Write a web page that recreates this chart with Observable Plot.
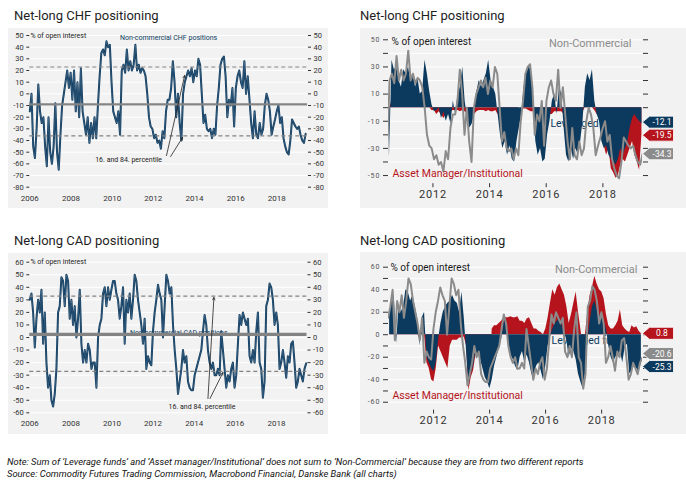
<!DOCTYPE html>
<html><head><meta charset="utf-8">
<script src="https://cdn.jsdelivr.net/npm/d3@7"></script>
<script src="https://cdn.jsdelivr.net/npm/@observablehq/plot@0.6"></script>
<style>
body{margin:0;background:#fff;font-family:Roboto,'Noto Sans',sans-serif;}
#wrap{position:relative;width:686px;height:498px;overflow:hidden;background:#fff;}
.title{position:absolute;font-size:13px;line-height:14px;color:#1e1e1e;white-space:nowrap;}
.note{position:absolute;left:7px;font-size:9.4px;line-height:12px;font-style:italic;color:#111;white-space:nowrap;}
.split [aria-label="x-axis tick label"] text{letter-spacing:0.8px;}
.split [aria-label="y-axis tick label"] text{letter-spacing:1px;}
</style></head><body>
<div id="wrap">
  <div class="title" style="left:14px;top:9px">Net-long CHF positioning</div>
  <div class="title" style="left:360px;top:9px">Net-long CHF positioning</div>
  <div class="title" style="left:14px;top:234px">Net-long CAD positioning</div>
  <div class="title" style="left:360px;top:234px">Net-long CAD positioning</div>
  <div class="note" style="top:456px">Note: Sum of ‘Leverage funds’ and ‘Asset manager/Institutional’ does not sum to ‘Non-Commercial’ because they are from two different reports</div>
  <div class="note" style="top:468px">Source: Commodity Futures Trading Commission, Macrobond Financial, Danske Bank (all charts)</div>
</div>
<script>
const FONT = "Roboto, 'Noto Sans', sans-serif";
const BG = "#f2f2f2", NAVY = "#0c3a5e", RED = "#b5141c", GRAY = "#8b8b8b", MEANC = "#838383";

// ---- CHF non-commercial, % of open interest (monthly, 2006.0 - 2019.40)
const chfNcStart = 2006.0, chfNcEnd = 2019.40;
const chfNonCommercial = [
  -15, 0, -45, -55, -30, 8, -15, -25, -20, -45, -62, -20,
  -50, -60, -45, -8, -50, -65, -35, -10, 0, 10, 20, 5,
  18, -5, 20, -15, 10, -20, 22, -15, -25, -35, -20, -42,
  -25, -38, -20, -38, -10, 15, 35, 38, 33, 45, 40, 42,
  10, -15, -20, -25, -15, -35, 20, 25, 18, 38, 20, 28,
  20, 25, 42, 20, 25, 18, 22, 20, 15, 0, -20, -28,
  -30, -38, -35, -42, -40, -47, -32, -38, -15, -5, -5, 5,
  28, 10, -20, 0, -25, -40, 0, 10, 15, 20, 15, 22,
  10, 20, 15, 30, 25, 0, -25, -18, -30, -32, -30, -38,
  -30, -35, -10, 5, 25, 30, 32, 15, -20, -5, -10, 5,
  -28, 5, 15, 20, 10, 5, 28, 0, 15, -5, -25, -38,
  -15, -35, -38, -25, -35, -30, -10, 0, -5, -15, -35, -28,
  -22, -15, -10, -25, -20, -38, -45, -50, -52, -40, -22, -25,
  -28, -30, -28, -35, -40, -42, -34.3
];
const chfMean = -9;
const chfPercentiles = [23, -36];

// ---- CAD non-commercial (2006.0 - 2019.45)
const cadNcStart = 2006.0, cadNcEnd = 2019.45;
const cadNonCommercial = [
  30, 35, 20, -8, 15, 30, 20, 38, -5, 20, -20, -40, -30, -50, -55, -45, -25, 20, 25, 48,
  45, 25, 50, 45, 15, 30, 10, 25, 0, 15, 38, -5, -20, -10, -20, -5, -10, -25, -20, -20,
  -40, 0, 10, 15, 35, 40, 25, 40, 30, 38, 45, 45, 35, 30, 15, 25, 40, -5, 30, 20,
  35, 15, 30, 50, 45, 30, 20, 10, -5, 15, -25, -15, -20, -22, 5, 20, 30, 42, 35, 30,
  0, 25, 50, 45, 35, 40, 10, -10, -25, -45, -35, -25, -10, -20, -15, -35, -40, -42, -42, -30,
  -25, -20, -15, -10, 5, 18, 10, -10, -20, -25, -20, -30, -30, -25, -30, 5, -10, -25, -40, -30,
  -35, -25, -20, -40, -30, -5, 18, 10, 20, 15, 10, 15, -15, -20, -10, -20, 5, 20, -20, -25,
  -48, -35, 25, 30, 43, 40, 30, 10, 20, 10, -25, -20, -10, -20, -32, -15, -20, -5, -3, -20,
  -40, -35, -25, -30, -35, -25, -20.6
];
const cadMean = 2.5;
const cadPercentiles = [33, -27];

// ---- CHF split (monthly, 2010.47 - 2019.38)
const chfSplitStart = 2010.47, chfSplitEnd = 2019.38;
const chfLeveraged = [
  -35, 35, 28, 30, 20, 15, 28, 25, 30, 20, 25, 15,
  22, 10, 12, 35, 25, 12, 2, -3, -2, 0, -8, -3,
  -10, -5, -12, 5, -5, 10, 15, 30, 5, -8, -15, -12,
  -5, 12, 20, 15, 20, 25, 35, 20, 15, 10, -5, -20,
  -30, -25, -35, -28, -38, -40, -25, -15, -5, 15, 25, 30,
  28, 5, -25, -35, -30, -40, -38, -20, -10, 5, 10, -5,
  15, 10, -15, -35, -40, -30, -38, -30, -35, -25, -10, 15,
  25, 20, 28, 5, -5, -10, -25, -30, -28, -35, -38, -40,
  -42, -38, -30, -35, -30, -25, -15, -8, -5, -8, -10, -12.1
];
const chfAssetManager = [
  0, 5, 8, 5, 3, 5, 5, 3, 5, 3, 3, 2,
  3, 2, 2, 3, 2, 0, -2, -2, -5, -3, -5, -8,
  -5, -3, -3, -2, -2, -2, -3, -2, -3, -5, -3, -8,
  -5, -3, -2, -2, -2, -3, -2, -3, -3, -2, -5, -3,
  -2, -2, -3, -2, -3, -2, -1, 0, 0, -1, -1, -2,
  -3, -3, -5, -5, -8, -10, -15, -8, -5, -5, -3, -3,
  -3, -3, -5, -5, -5, -5, -5, -3, -5, -3, -3, 0,
  2, 0, 0, -2, -5, -5, -15, -28, -35, -30, -45, -48,
  -52, -50, -42, -38, -40, -35, -30, -25, -35, -40, -46, -19.5
];

// ---- CAD split (monthly, 2010.43 - 2019.42)
const cadSplitStart = 2010.43, cadSplitEnd = 2019.42;
const cadLeveraged = [
  20, 30, 35, -8, 25, 20, 25, 40, 38, 30, 35, 25,
  15, -10, 15, 20, -20, -25, -30, -33, -25, -5, 10, 20,
  25, 28, 30, 35, 30, 28, 20, 38, 15, -15, -45, -35,
  -28, -15, -18, -22, -30, -38, -42, -48, -40, -28, -20, -12,
  -5, 10, 15, -5, -18, -22, -28, -32, -20, -15, -25, -18,
  -25, -35, -40, -28, -25, -32, -40, -28, -10, -2, 5, 10,
  12, 15, 8, 2, -5, -20, -12, -15, -22, -35, -42, -48,
  -35, -5, 12, 25, 30, 22, 18, 15, 12, 5, -10, -20,
  -25, -20, -18, -15, -25, -12, -8, -35, -32, -28, -30, -33, -25.3
];
const cadAssetManager = [
  0, 2, 2, 0, 2, 2, 3, 3, 3, 3, 2, 2,
  0, -3, 0, 0, -25, -30, -40, -42, -30, -10, -15, -20,
  -25, -30, -10, -5, -5, -5, -3, -3, -2, -10, -50, -38,
  -32, -18, -15, -20, -25, -35, -40, -45, 5, 8, 8, 10,
  12, 15, 15, 15, 16, 15, 15, 16, 12, 12, 10, 14,
  15, 10, 5, 5, 3, 2, 0, 5, 15, 28, 40, 35,
  42, 45, 40, 35, 25, 10, 18, 28, 38, 20, 5, -10,
  0, 20, 35, 42, 52, 45, 40, 38, 32, 18, 8, 5,
  5, 8, 12, 22, 8, 5, 3, 2, 8, 6, 7, 3, 0.8
];

const yearTicksLong = [2006, 2008, 2010, 2012, 2014, 2016, 2018];
const yearTicksShort = [2012, 2014, 2016, 2018];

// ---- helpers
function toDate(y) {
  const yr = Math.floor(y);
  const s = Date.UTC(yr, 0, 1), e = Date.UTC(yr + 1, 0, 1);
  return new Date(s + (y - yr) * (e - s));
}
function toSeries(values, start, end) {
  const step = (end - start) / (values.length - 1);
  return values.map((v, i) => ({date: toDate(start + i * step), value: v}));
}
function label(x, y, text, opts) {
  return Plot.text([{x: toDate(x), y, text}], {x: "x", y: "y", text: "text", fontFamily: FONT, ...opts});
}
function arrows(list) {
  return Plot.arrow(list.map(a => ({x1: toDate(a[0]), y1: a[1], x2: toDate(a[2]), y2: a[3]})),
    {x1: "x1", y1: "y1", x2: "x2", y2: "y2", stroke: "#222", strokeWidth: 0.8, headLength: 5, headAngle: 50});
}
const wrap = document.getElementById("wrap");
function place(el, left, top) {
  el.style.position = "absolute";
  el.style.left = left + "px";
  el.style.top = top + "px";
  wrap.appendChild(el);
}

function longPanel(cfg) {
  const ticks = d3.range(cfg.yDomain[0], cfg.yDomain[1] + 1, 10);
  return Plot.plot({
    width: 320, height: cfg.height,
    marginLeft: 21.3, marginRight: cfg.marginRight, marginTop: cfg.marginTop, marginBottom: cfg.marginBottom,
    style: {background: BG, fontFamily: FONT, fontSize: "7.5px", color: "#333", overflow: "visible"},
    x: {type: "utc", domain: [toDate(2006), toDate(2019.49)]},
    y: {domain: cfg.yDomain},
    marks: [
      Plot.ruleY(ticks, {stroke: "#fff", strokeWidth: 1}),
      Plot.axisY({anchor: "left", ticks, tickSize: 3, tickPadding: 3, label: null, tickFormat: d => String(d)}),
      Plot.axisY({anchor: "right", ticks, tickSize: 3, tickPadding: 3, label: null, tickFormat: d => String(d)}),
      Plot.axisX({ticks: yearTicksLong.map(toDate), tickSize: 0, tickPadding: 8, label: null, tickFormat: d3.utcFormat("%Y"), fontSize: 8}),
      label(2006.03, cfg.yDomain[1], "% of open interest", {textAnchor: "start", fontSize: 7, fill: "#222"}),
      label(cfg.seriesLabel[0], cfg.seriesLabel[1], cfg.seriesLabel[2], {fontSize: 7, fill: NAVY}),
      Plot.line(cfg.data, {x: "date", y: "value", stroke: NAVY, strokeWidth: 2}),
      Plot.line(cfg.data, {x: "date", y: "value", stroke: "#8aa2b8", strokeWidth: 0.35, strokeOpacity: 0.8}),
      Plot.ruleY(cfg.pct, {stroke: MEANC, strokeWidth: 1.2, strokeDasharray: "4,3"}),
      Plot.ruleY([cfg.mean], {stroke: MEANC, strokeWidth: cfg.meanWidth}),
      arrows(cfg.arrows),
      label(cfg.pctLabel[0], cfg.pctLabel[1], "16. and 84. percentile", {fontSize: 7, fill: "#222"})
    ]
  });
}

function splitPanel(cfg) {
  const ticks = d3.range(cfg.tickRange[0], cfg.tickRange[1] + 1, 10);
  const svg = Plot.plot({
    width: 326, height: cfg.height,
    marginLeft: 28, marginRight: 44, marginTop: cfg.marginTop, marginBottom: cfg.marginBottom,
    className: "split",
    style: {background: BG, fontFamily: FONT, fontSize: "7px", color: "#333", overflow: "visible"},
    x: {type: "utc", domain: [toDate(cfg.xDomain[0]), toDate(cfg.xDomain[1])]},
    y: {domain: cfg.yDomain},
    marks: [
      Plot.ruleY(ticks, {stroke: "#fff", strokeWidth: 1}),
      Plot.axisY({anchor: "left", ticks, tickSize: 5, tickPadding: 3, label: null, tickFormat: cfg.tickFormat, fill: "#555"}),
      Plot.axisY({anchor: "right", ticks, tickSize: 5, tickPadding: 3, label: null, tickFormat: () => ""}),
      Plot.axisX({ticks: yearTicksShort.map(toDate), tickSize: 4, tickPadding: 2, label: null, tickFormat: d3.utcFormat("%Y"), fontSize: 11, fill: "#333"}),
      label(cfg.levLabel[0], cfg.levLabel[1], "Leveraged funds", {textAnchor: "start", fontSize: 10.5, fill: NAVY}),
      Plot.areaY(cfg.am, {x: "date", y: "value", fill: RED}),
      Plot.areaY(cfg.lev, {x: "date", y: "value", fill: NAVY}),
      Plot.line(cfg.nc, {x: "date", y: "value", stroke: GRAY, strokeWidth: 2, clip: true}),
      label(cfg.pctOi[0], cfg.pctOi[1], "% of open interest", {textAnchor: "start", fontSize: 10, fill: "#1a1a1a"}),
      label(cfg.ncLabel[0], cfg.ncLabel[1], "Non-Commercial", {textAnchor: "end", fontSize: 11, fill: GRAY}),
      label(cfg.amLabel[0], cfg.amLabel[1], "Asset Manager/Institutional", {textAnchor: "start", fontSize: 10.5, fill: RED})
    ]
  });
  // end-of-series value boxes, positioned through the y scale and dodged
  const ys = svg.scale("y");
  const pos = cfg.ends.map(d => ({...d, py: ys.apply(d.value)})).sort((a, b) => a.py - b.py);
  const gap = 13;
  for (let k = 0; k < 40; k++) {
    for (let i = 1; i < pos.length; i++) {
      const dd = pos[i].py - pos[i - 1].py;
      if (dd < gap) { const s = (gap - dd) / 2; pos[i - 1].py -= s; pos[i].py += s; }
    }
  }
  const x0 = 326 - 44 + 0.5;
  const g = d3.select(svg).append("g");
  for (const d of pos) {
    const y = d.py;
    g.append("path").attr("d", `M${x0},${y}L${x0 + 7},${y - 6}H${x0 + 31}V${y + 6}H${x0 + 7}Z`)
      .attr("fill", d.color).attr("stroke", "#fff").attr("stroke-width", 0.8);
    g.append("text").attr("x", x0 + 19.5).attr("y", y).attr("dy", "0.36em").attr("text-anchor", "middle")
      .attr("fill", "#fff").attr("font-size", 8.5).attr("font-family", FONT).text(d.value.toFixed(1));
  }
  return svg;
}

const chfNcData = toSeries(chfNonCommercial, chfNcStart, chfNcEnd);
const cadNcData = toSeries(cadNonCommercial, cadNcStart, cadNcEnd);

place(longPanel({
  data: chfNcData, yDomain: [-80, 50], height: 180, marginTop: 7, marginBottom: 21.3, marginRight: 21,
  mean: chfMean, meanWidth: 2.4, pct: chfPercentiles,
  seriesLabel: [2012.74, 48.3, "Non-commercial CHF positions"],
  pctLabel: [2010.8, -56.8],
  arrows: [[2012.64, -52.9, 2013.52, 15.7], [2012.84, -53.7, 2013.42, -37.4]]
}), 8, 28);

place(longPanel({
  data: cadNcData, yDomain: [-60, 60], height: 181, marginTop: 8.7, marginBottom: 21.7, marginRight: 21.5,
  mean: cadMean, meanWidth: 3.3, pct: cadPercentiles,
  seriesLabel: [2013.25, 4, "Non-commercial CAD positions"],
  pctLabel: [2014.38, -55],
  arrows: [[2014.67, -48.6, 2014.96, 31.9], [2014.77, -48.6, 2015.4, -27.9]]
}), 8, 253);

const chfLast = arr => arr[arr.length - 1];
place(splitPanel({
  height: 180, marginTop: 11.3, marginBottom: 24.8,
  xDomain: [2010.43, 2019.40], yDomain: [-56, 50], tickRange: [-50, 50],
  tickFormat: d => (d % 20 !== 0 ? String(d) : ""),
  lev: toSeries(chfLeveraged, chfSplitStart, chfSplitEnd),
  am: toSeries(chfAssetManager, chfSplitStart, chfSplitEnd),
  nc: chfNcData.filter(d => d.date >= toDate(2010.37)),
  levLabel: [2016.15, -11.7], pctOi: [2010.54, 48.7], ncLabel: [2019.01, 47.3], amLabel: [2010.57, -48.5],
  ends: [
    {value: chfLast(chfLeveraged), color: NAVY},
    {value: chfLast(chfAssetManager), color: RED},
    {value: chfLast(chfNonCommercial), color: GRAY}
  ]
}), 360, 28);

place(splitPanel({
  height: 182, marginTop: 14.7, marginBottom: 24.4,
  xDomain: [2010.39, 2019.46], yDomain: [-67, 60], tickRange: [-60, 60],
  tickFormat: d => (d % 20 === 0 ? String(d) : ""),
  lev: toSeries(cadLeveraged, cadSplitStart, cadSplitEnd),
  am: toSeries(cadAssetManager, cadSplitStart, cadSplitEnd),
  nc: cadNcData.filter(d => d.date >= toDate(2010.3)),
  levLabel: [2016.21, -5.2], pctOi: [2010.46, 59.7], ncLabel: [2019.28, 58], amLabel: [2010.53, -54],
  ends: [
    {value: chfLast(cadAssetManager), color: RED},
    {value: chfLast(cadNonCommercial), color: GRAY},
    {value: chfLast(cadLeveraged), color: NAVY}
  ]
}), 360, 252);
</script>
</body></html>
